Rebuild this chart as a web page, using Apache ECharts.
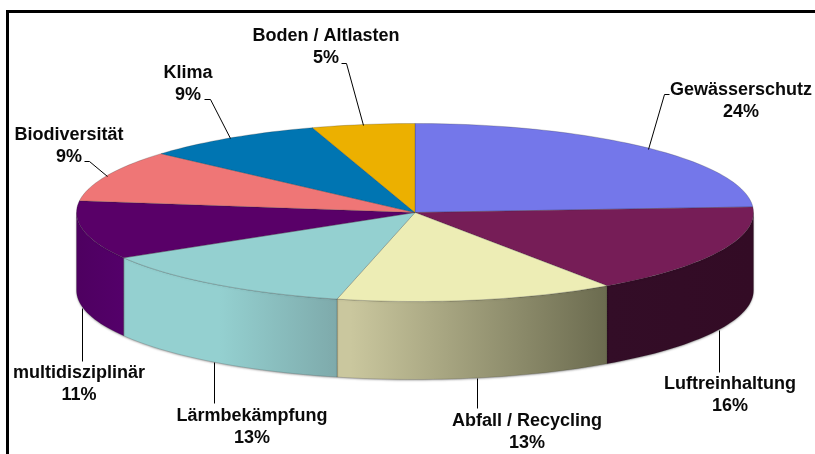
<!DOCTYPE html>
<html><head><meta charset="utf-8">
<style>html,body{margin:0;padding:0;background:#fff}#c{width:815px;height:454px}</style>
<script src="https://cdn.jsdelivr.net/npm/echarts@6/dist/echarts.min.js"></script>
</head><body><div id="c"></div>
<script>
const categories = ['Gewässerschutz','Luftreinhaltung','Abfall / Recycling','Lärmbekämpfung','multidisziplinär','Biodiversität','Klima','Boden / Altlasten'];
const shares = [24.0,16.4,13.3,12.8,10.6,9.4,8.6,4.9];
const topColors = ['#7477ea','#761d57','#ededb5','#94d0d0','#590068','#ef7676','#0075b2','#ecb000'];
const wallColors = [['#330c26','#330c26'],['#330d27','#330b25'],['#cac79e','#6b6b4f'],['#94d0d0','#7eaaab'],['#4e0060','#54006a'],['#ef7676','#ef7676'],['#0075b2','#0075b2'],['#ecb000','#ecb000']];
const wallHold = [0,0,0.05,0.45,0,0,0,0];
const labelAt = [[741,90],[730,384],[527,421],[252,416],[79,373],[69,135],[188,73],[326,36]];
const leaders = [
 [[648,149],[664,94],[669,94]],[[719,330],[719,372]],[[477,378],[477,408]],[[214,362],[214,403]],
 [[82,308],[82,361]],[[107,176],[89,161],[84,161]],[[230,138],[210,99],[204,99]],[[363,125],[346,63],[341,63]]
];
const CX=415, CY=212.5, RX=338.5, RY=89, DEPTH=78;
const total = shares.reduce((a,b)=>a+b,0);
const rad = d => d*Math.PI/180;
const pt = (t,dy) => [CX+RX*Math.sin(rad(t)), CY+(dy||0)-RY*Math.cos(rad(t))];
function arc(a,b,dy){const n=Math.max(2,Math.ceil((b-a)/1.5)),o=[];for(let i=0;i<=n;i++)o.push(pt(a+(b-a)*i/n,dy));return o;}
const font='bold 18px "Liberation Sans", Arial, sans-serif';

const chart = echarts.init(document.getElementById('c'),null,{renderer:'canvas'});
chart.setOption({
  animation:false,
  graphic:[
    {type:'rect',shape:{x:6,y:10,width:809,height:3},style:{fill:'#000'},silent:true},
    {type:'rect',shape:{x:6,y:10,width:3,height:444},style:{fill:'#000'},silent:true}
  ],
  series:[{
    type:'custom',coordinateSystem:'none',clip:false,
    data:shares.map((v,i)=>({name:categories[i],value:[i,v]})),
    renderItem(params,api){
      const i=api.value(0);
      let before=0;for(let k=0;k<i;k++)before+=shares[k];
      const a=before/total*360,b=(before+api.value(1))/total*360;
      const kids=[];
      const wa=Math.max(a,90),wb=Math.min(b,270);
      if(wb>wa){
        kids.push({type:'polygon',z2:1,
          shape:{points:arc(wa,wb,0).concat(arc(wa,wb,DEPTH).reverse())},
          style:{fill:new echarts.graphic.LinearGradient(0,0,1,0,
            [{offset:0,color:wallColors[i][0]},{offset:wallHold[i],color:wallColors[i][0]},{offset:1,color:wallColors[i][1]}]),
            stroke:'rgba(30,30,30,0.35)',lineWidth:0.5,
            shadowColor:'rgba(0,0,0,0.3)',shadowBlur:2,shadowOffsetY:1}});
      }
      kids.push({type:'polygon',z2:2,
        shape:{points:[[CX,CY]].concat(arc(a,b,0))},
        style:{fill:topColors[i],stroke:'rgba(40,40,40,0.4)',lineWidth:0.6}});
      kids.push({type:'polyline',z2:3,shape:{points:leaders[i].map(p=>[p[0]+0.5,p[1]+0.5])},style:{fill:'none',stroke:'#000',lineWidth:1}});
      kids.push({type:'text',z2:4,style:{
        text:categories[i]+'\n'+Math.round(api.value(1))+'%',
        x:labelAt[i][0],y:labelAt[i][1]-11,align:'center',verticalAlign:'top',
        font:font,fill:'#0a0a0a',lineHeight:22}});
      return {type:'group',children:kids};
    }
  }]
});
</script></body></html>
